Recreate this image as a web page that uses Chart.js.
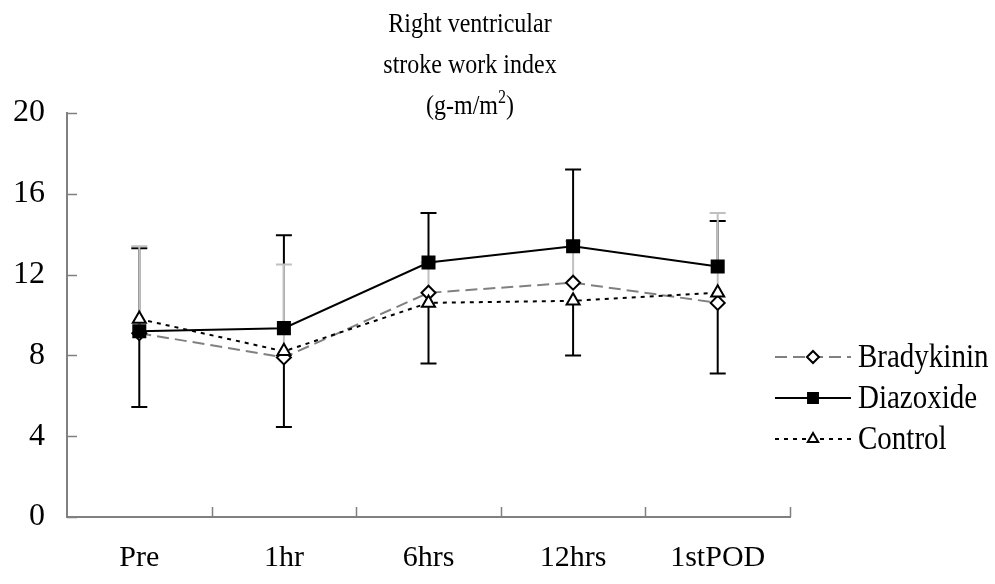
<!DOCTYPE html>
<html>
<head>
<meta charset="utf-8">
<script src="https://cdn.jsdelivr.net/npm/chart.js@4/dist/chart.umd.min.js"></script>
<style>
  html, body { margin: 0; padding: 0; background: #fff; }
  #wrap { width: 995px; height: 584px; }
</style>
</head>
<body>
<div id="wrap"><canvas id="rvswi"></canvas></div>
<script>
const categories = ['Pre', '1hr', '6hrs', '12hrs', '1stPOD'];
const yTicks = [0, 4, 8, 12, 16, 20];

const bradykinin = [9.1, 7.9, 11.1, 11.6, 10.6];
const diazoxide = [9.2, 9.35, 12.6, 13.4, 12.4];
const control = [9.8, 8.2, 10.6, 10.7, 11.1];

// one-sided SD bars: up for Bradykinin / Diazoxide, down for Control
const bradykininErrUp = [4.3, 4.6, 1.5, 2.05, 4.45];
const diazoxideErrUp = [4.1, 4.6, 2.45, 3.8, 2.25];
const controlErrDown = [4.35, 3.75, 3.0, 2.7, 4.0];

const FONT = 'Liberation Serif, Times New Roman, serif';
const AXIS_GREY = '#808080';
const TEXT_STRETCH = 1.13;

const series = [
  { label: 'Bradykinin', data: bradykinin, color: '#808080', dash: [12, 6], point: 'rectRot', fill: '#fff', radius: 7, legendRadius: 6, order: 2 },
  { label: 'Diazoxide', data: diazoxide, color: '#000', dash: [], point: 'rect', fill: '#000', radius: 8.5, legendRadius: 7, order: 0 },
  { label: 'Control', data: control, color: '#000', dash: [4, 5], point: 'triangle', fill: '#fff', radius: 7.5, legendRadius: 6, order: 1 }
];

const errorBars = [
  { data: diazoxide, err: diazoxideErrUp, dir: 1, color: '#000' },
  { data: control, err: controlErrDown, dir: -1, color: '#000' },
  { data: bradykinin, err: bradykininErrUp, dir: 1, color: '#c0c0c0' }
];

const errorBarPlugin = {
  id: 'errorBars',
  beforeDatasetsDraw(chart) {
    const { ctx, scales: { x, y } } = chart;
    ctx.save();
    ctx.lineWidth = 2;
    ctx.setLineDash([]);
    errorBars.forEach(bar => {
      ctx.strokeStyle = bar.color;
      bar.data.forEach((v, i) => {
        const px = x.getPixelForValue(i);
        const y0 = y.getPixelForValue(v);
        const y1 = y.getPixelForValue(v + bar.dir * bar.err[i]);
        ctx.beginPath();
        ctx.moveTo(px, y0);
        ctx.lineTo(px, y1);
        ctx.moveTo(px - 8, y1);
        ctx.lineTo(px + 8, y1);
        ctx.stroke();
      });
    });
    ctx.restore();
  }
};

// tick marks pointing into the plot, like the original spreadsheet axes
const innerTicksPlugin = {
  id: 'innerTicks',
  afterDraw(chart) {
    const { ctx, scales: { x, y } } = chart;
    ctx.save();
    ctx.strokeStyle = AXIS_GREY;
    ctx.lineWidth = 1.5;
    ctx.beginPath();
    yTicks.forEach(t => {
      const py = Math.round(y.getPixelForValue(t)) + 0.5;
      ctx.moveTo(x.left, py);
      ctx.lineTo(x.left + 10, py);
    });
    const step = (x.right - x.left) / categories.length;
    for (let i = 1; i <= categories.length; i++) {
      const px = Math.round(x.left + i * step) + 0.5;
      ctx.moveTo(px, y.bottom);
      ctx.lineTo(px, y.bottom - 10);
    }
    ctx.stroke();
    ctx.restore();
  }
};

// text drawn slightly taller than wide, as the serif glyphs of the figure are
function tallText(ctx, text, x, y, size, align) {
  ctx.save();
  ctx.translate(x, y);
  ctx.scale(1, TEXT_STRETCH);
  ctx.font = size + 'px ' + FONT;
  ctx.textAlign = align;
  ctx.textBaseline = 'middle';
  ctx.fillText(text, 0, 0);
  ctx.restore();
}

const titlePlugin = {
  id: 'stackedTitle',
  afterDraw(chart) {
    const ctx = chart.ctx;
    const cx = 470;
    ctx.save();
    ctx.fillStyle = '#000';
    tallText(ctx, 'Right ventricular', cx, 25, 24, 'center');
    tallText(ctx, 'stroke work index', cx, 66, 24, 'center');
    // "(g-m/m²)" with a raised 2
    const a = '(g-m/m', b = ')';
    ctx.font = '24px ' + FONT;
    const wa = ctx.measureText(a).width;
    const wb = ctx.measureText(b).width;
    ctx.font = '16px ' + FONT;
    const ws = ctx.measureText('2').width;
    const left = cx - (wa + ws + wb) / 2;
    tallText(ctx, a, left, 107, 24, 'left');
    tallText(ctx, '2', left + wa, 98, 16, 'left');
    tallText(ctx, b, left + wa + ws, 107, 24, 'left');
    ctx.restore();
  }
};

function drawMarker(ctx, style, radius, x, y) {
  if (Chart.helpers && Chart.helpers.drawPoint) {
    Chart.helpers.drawPoint(ctx, { pointStyle: style, radius: radius, rotation: 0, borderWidth: 2 }, x, y);
  }
}

const legendPlugin = {
  id: 'sideLegend',
  afterDraw(chart) {
    const ctx = chart.ctx;
    const x0 = 775, x1 = 851, xm = 813, xt = 858;
    const rows = [357, 398, 439];
    ctx.save();
    series.forEach((s, i) => {
      const ly = rows[i];
      ctx.strokeStyle = s.color;
      ctx.lineWidth = 2;
      ctx.setLineDash(s.dash);
      ctx.beginPath();
      ctx.moveTo(x0, ly);
      ctx.lineTo(x1, ly);
      ctx.stroke();
      ctx.setLineDash([]);
      ctx.strokeStyle = '#000';
      ctx.fillStyle = s.fill;
      ctx.lineWidth = 2;
      drawMarker(ctx, s.point, s.legendRadius, xm, ly);
      ctx.fillStyle = '#000';
      tallText(ctx, s.label, xt, ly + 1, 29, 'left');
    });
    ctx.restore();
  }
};

new Chart(document.getElementById('rvswi'), {
  type: 'line',
  data: {
    labels: categories,
    datasets: series.map(s => ({
      label: s.label,
      data: s.data,
      order: s.order,
      borderColor: s.color,
      borderWidth: 2,
      borderDash: s.dash,
      pointStyle: s.point,
      pointRadius: s.radius,
      pointBackgroundColor: s.fill,
      pointBorderColor: '#000',
      pointBorderWidth: 2,
      tension: 0
    }))
  },
  options: {
    responsive: true,
    maintainAspectRatio: false,
    animation: false,
    events: [],
    layout: { padding: { top: 113, right: 205, left: 0, bottom: 0 } },
    plugins: {
      legend: { display: false },
      title: { display: false },
      tooltip: { enabled: false }
    },
    scales: {
      x: {
        offset: true,
        grid: { drawOnChartArea: false, drawTicks: false, color: 'rgba(0,0,0,0)' },
        border: { color: AXIS_GREY, width: 2 },
        ticks: { color: '#000', font: { family: FONT, size: 30 }, padding: 23, maxRotation: 0 },
        afterFit(scale) { scale.height = 67; }
      },
      y: {
        min: 0,
        max: 20,
        afterBuildTicks(scale) { scale.ticks = yTicks.map(v => ({ value: v })); },
        grid: { drawOnChartArea: false, drawTicks: false, color: 'rgba(0,0,0,0)' },
        border: { color: AXIS_GREY, width: 2 },
        ticks: { color: '#000', font: { family: FONT, size: 32 }, padding: 22 },
        afterFit(scale) { scale.width = 67; }
      }
    }
  },
  plugins: [errorBarPlugin, innerTicksPlugin, titlePlugin, legendPlugin]
});
</script>
</body>
</html>
